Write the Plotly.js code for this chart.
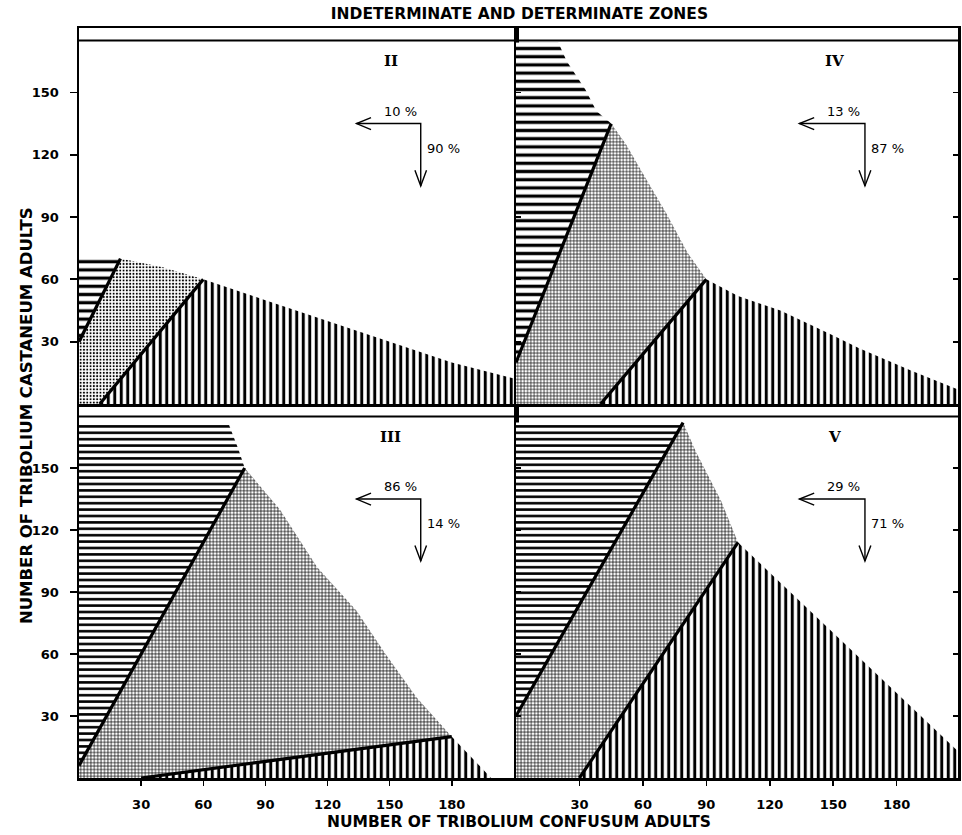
<!DOCTYPE html>
<html><head><meta charset="utf-8">
<script src="https://cdn.plot.ly/plotly-3.0.1.min.js"></script>
<style>html,body{margin:0;padding:0;background:#fff}</style>
</head><body><div id="chart" style="width:962px;height:835px"></div>
<script>
// ---- tick values ----
const xTickVals = [30, 60, 90, 120, 150, 180];
const yTickVals = [30, 60, 90, 120, 150];

// ---- Panel II (top-left) ----
const II_horizX = [0, 0, 20];
const II_horizY = [30, 70, 70];
const II_dotX = [0, 0, 20, 40, 60, 10];
const II_dotY = [0, 30, 70, 66, 60, 0];
const II_vertX = [10, 60, 90, 120, 150, 180, 211, 211];
const II_vertY = [0, 60, 50, 40, 30, 20, 12, 0];
const II_line1X = [0, 20], II_line1Y = [30, 70];
const II_line2X = [10, 60], II_line2Y = [0, 60];

// ---- Panel III (bottom-left) ----
const III_horizX = [0, 0, 72, 77, 80];
const III_horizY = [6, 172, 172, 159, 150];
const III_gridX = [0, 0, 80, 97, 115, 134, 148, 163, 180, 30];
const III_gridY = [0, 6, 150, 130, 102, 81, 60, 39, 20, 0];
const III_vertX = [30, 180, 199];
const III_vertY = [0, 20, 0];
const III_line1X = [0, 80], III_line1Y = [6, 150];
const III_line2X = [30, 180], III_line2Y = [0, 20];

// ---- Panel IV (top-right) ----
const IV_horizX = [0, 0, 20, 24, 33, 38, 45];
const IV_horizY = [20, 174, 174, 165, 151, 141, 135];
const IV_gridX = [0, 0, 45, 52, 60, 71, 81, 90, 40];
const IV_gridY = [0, 20, 135, 125, 111, 92, 73, 60, 0];
const IV_vertX = [40, 90, 105, 125, 150, 162, 187, 209, 209];
const IV_vertY = [0, 60, 52, 45, 33, 27, 16, 7, 0];
const IV_line1X = [0, 45], IV_line1Y = [20, 135];
const IV_line2X = [40, 90], IV_line2Y = [0, 60];

// ---- Panel V (bottom-right) ----
const V_horizX = [0, 0, 79];
const V_horizY = [30, 172, 172];
const V_gridX = [0, 0, 79, 85, 97, 105, 30];
const V_gridY = [0, 30, 172, 158, 134, 114, 0];
const V_vertX = [30, 105, 209, 209];
const V_vertY = [0, 114, 13, 0];
const V_line1X = [0, 79], V_line1Y = [30, 172];
const V_line2X = [30, 105], V_line2Y = [0, 114];

// ---- labels ----
const panelNames = ["II", "III", "IV", "V"];
const pctLeft = ["10 %", "86 %", "13 %", "29 %"];
const pctDown = ["90 %", "14 %", "87 %", "71 %"];

// ---- styles ----
const FONT = "DejaVu Sans, Arial, sans-serif";
const panels = [
  {xa: "x3", ya: "y3", hSize: 8.2, data: [II_horizX, II_horizY, II_dotX, II_dotY, II_vertX, II_vertY,
     II_line1X, II_line1Y, II_line2X, II_line2Y], mid: {shape: ".", size: 3.3, solidity: 0.3}},
  {xa: "x", ya: "y", hSize: 6.4, data: [III_horizX, III_horizY, III_gridX, III_gridY, III_vertX, III_vertY,
     III_line1X, III_line1Y, III_line2X, III_line2Y], mid: {shape: "+", size: 3.4, solidity: 0.36}},
  {xa: "x4", ya: "y4", hSize: 8.2, data: [IV_horizX, IV_horizY, IV_gridX, IV_gridY, IV_vertX, IV_vertY,
     IV_line1X, IV_line1Y, IV_line2X, IV_line2Y], mid: {shape: "+", size: 3.3, solidity: 0.34}},
  {xa: "x2", ya: "y2", hSize: 6.4, data: [V_horizX, V_horizY, V_gridX, V_gridY, V_vertX, V_vertY,
     V_line1X, V_line1Y, V_line2X, V_line2Y], mid: {shape: "+", size: 3.4, solidity: 0.36}}
];

const traces = [];
panels.forEach(p => {
  const d = p.data;
  const base = {type: "scatter", mode: "lines", fill: "toself", xaxis: p.xa, yaxis: p.ya,
                line: {width: 0, color: "rgba(0,0,0,0)"}, hoverinfo: "skip", showlegend: false};
  traces.push(Object.assign({}, base, {x: d[0], y: d[1],
    fillpattern: {shape: "-", size: p.hSize, solidity: 0.4, fgcolor: "#000", bgcolor: "#fff", fillmode: "replace"}}));
  traces.push(Object.assign({}, base, {x: d[2], y: d[3],
    fillpattern: Object.assign({fgcolor: "#000", bgcolor: "#fff", fillmode: "replace"}, p.mid)}));
  traces.push(Object.assign({}, base, {x: d[4], y: d[5],
    fillpattern: {shape: "|", size: 6.5, solidity: 0.46, fgcolor: "#000", bgcolor: "#fff", fillmode: "replace"}}));
  [[d[6], d[7]], [d[8], d[9]]].forEach(l => {
    traces.push({type: "scatter", mode: "lines", x: l[0], y: l[1], xaxis: p.xa, yaxis: p.ya,
      line: {color: "#000", width: 3.2}, hoverinfo: "skip", showlegend: false});
  });
});

const split = 437 / 879;
const ysplit = 374 / 750;
const tickFont = {family: FONT, size: 13, color: "#000", weight: "bold"};
function xax(domain, range, labels) {
  return {domain: domain, range: range, showgrid: false, zeroline: false, showline: true,
    linecolor: "#000", linewidth: 2.5, mirror: true, tickvals: xTickVals,
    ticks: labels ? "outside" : "", ticklen: 5, tickwidth: 1.5, tickcolor: "#000",
    showticklabels: labels, ticklabelstandoff: 8, tickfont: tickFont};
}
function yax(domain, anchor, labels) {
  return {domain: domain, range: [0, 181], anchor: anchor, showgrid: false, zeroline: false, showline: true,
    linecolor: "#000", linewidth: 2.5, mirror: labels ? true : "ticks", tickvals: yTickVals,
    ticks: labels ? "outside" : "inside", ticklen: labels ? 7 : 5, tickwidth: 1.8, tickcolor: "#000",
    showticklabels: labels, ticklabelstandoff: 8, tickfont: tickFont};
}

const shapes = [];
const annotations = [];
panels.forEach((p, i) => {
  shapes.push({type: "line", xref: p.xa + " domain", yref: p.ya, x0: 0, x1: 1, y0: 175, y1: 175,
    line: {color: "#000", width: 2}});
  const cx = 165, cy = 135, lx = 134, by = 105;
  shapes.push({type: "path", xref: p.xa, yref: p.ya,
    path: `M${lx},${cy} L${cx},${cy} L${cx},${by}`, line: {color: "#000", width: 1.4}});
  shapes.push({type: "path", xref: p.xa, yref: p.ya,
    path: `M${lx + 7},${cy + 2.9} L${lx},${cy} L${lx + 7},${cy - 2.9}`, line: {color: "#000", width: 1.4}});
  shapes.push({type: "path", xref: p.xa, yref: p.ya,
    path: `M${cx - 2.8},${by + 7.5} L${cx},${by} L${cx + 2.8},${by + 7.5}`, line: {color: "#000", width: 1.4}});
  annotations.push({xref: p.xa, yref: p.ya, x: 150.5, y: 165, text: panelNames[i], showarrow: false,
    font: {family: "DejaVu Serif, serif", size: 15, color: "#000", weight: "bold"}});
  annotations.push({xref: p.xa, yref: p.ya, x: 155, y: 141, yanchor: "middle", text: pctLeft[i], showarrow: false,
    font: {family: FONT, size: 13, color: "#000"}});
  annotations.push({xref: p.xa, yref: p.ya, x: 167, y: 123, xanchor: "left", text: pctDown[i], showarrow: false,
    font: {family: FONT, size: 13, color: "#000"}});
});

const labelFont = {family: FONT, size: 15.5, color: "#000", weight: "bold"};
annotations.push({xref: "paper", yref: "paper", x: 0.5, y: -0.059, yanchor: "middle",
  text: "NUMBER OF TRIBOLIUM CONFUSUM ADULTS", showarrow: false, font: labelFont});
annotations.push({xref: "paper", yref: "paper", x: -0.073, y: 0.483, textangle: -90,
  text: "NUMBER OF TRIBOLIUM CASTANEUM ADULTS", showarrow: false,
  font: {family: FONT, size: 16.5, color: "#000", weight: "bold"}});

const layout = {
  width: 962, height: 835,
  margin: {l: 79, r: 4, t: 28, b: 57},
  paper_bgcolor: "#fff", plot_bgcolor: "#fff",
  showlegend: false,
  title: {text: "INDETERMINATE AND DETERMINATE ZONES", x: 0.54, xanchor: "center", y: 0.984, yanchor: "middle",
    font: {family: FONT, size: 15.5, color: "#000", weight: "bold"}},
  xaxis: xax([0, split], [0, 211], true),
  xaxis2: Object.assign(xax([split, 1], [0, 209], true), {anchor: "y2"}),
  xaxis3: Object.assign(xax([0, split], [0, 211], false), {anchor: "y3"}),
  xaxis4: Object.assign(xax([split, 1], [0, 209], false), {anchor: "y4"}),
  yaxis: yax([0, ysplit], "x", true),
  yaxis2: yax([0, ysplit], "x2", false),
  yaxis3: yax([ysplit, 1], "x3", true),
  yaxis4: yax([ysplit, 1], "x4", false),
  shapes: shapes,
  annotations: annotations
};
layout.xaxis.anchor = "y";

Plotly.newPlot("chart", traces, layout, {staticPlot: true, displayModeBar: false});
</script>
</body></html>
